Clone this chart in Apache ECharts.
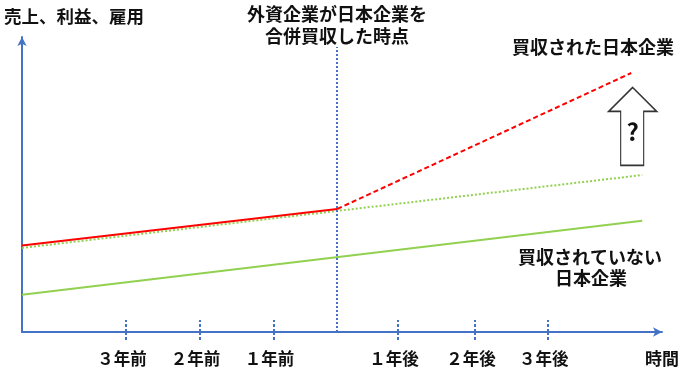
<!DOCTYPE html>
<html><head><meta charset="utf-8">
<script src="https://cdn.jsdelivr.net/npm/echarts@6/dist/echarts.min.js"></script>
<style>html,body{margin:0;padding:0;background:#fff}#c{width:684px;height:372px}</style>
</head><body><div id="c"></div>
<script>
// ---- data (x: years relative to acquisition, y: arbitrary level 0-100) ----
var tickYears = [-2.88, -1.88, -0.87, 0.83, 1.88, 2.87];
var tickLabels = ['３年前', '２年前', '１年前', '１年後', '２年後', '３年後'];
var acquiredBefore = [[-4.3, 29.3], [0, 41.7]];
var acquiredAfter = [[0, 41.7], [4.01, 87.8]];
var acquiredIfNot = [[-4.3, 28.5], [4.16, 53.2]];
var notAcquired = [[-4.3, 12.6], [4.16, 37.7]];
var acquisitionYear = 0;
var markerTop = 96.6;
var questionArrow = [4.03, 69.7];

var FONT = '"Noto Sans CJK JP", "Noto Sans", sans-serif';
var BLUE = '#4472C4', RED = '#FF0000', GREEN = '#92D050';
var chart = echarts.init(document.getElementById('c'));
function lbl(v) { var i = tickYears.indexOf(v); return i >= 0 ? tickLabels[i] : ''; }
var txt = function (t, x, y, align, size) {
  return { type: 'text', x: x, y: y, style: { text: t, font: 'bold ' + (size || 18) + 'px ' + FONT, fill: '#111', align: align || 'center', verticalAlign: 'middle' } };
};
chart.setOption({
  animation: false,
  grid: { left: 22, right: 22, top: 37, bottom: 40 },
  xAxis: [{
    type: 'value', min: -4.3, max: 4.43, splitLine: { show: false },
    axisLine: { onZero: false, lineStyle: { color: BLUE, width: 2 }, symbol: ['none', 'arrow'], symbolSize: [7, 9] },
    axisTick: { show: true, inside: true, length: 12, customValues: tickYears, lineStyle: { color: BLUE, width: 2, type: [3, 2] } },
    axisLabel: { show: true, customValues: tickYears, formatter: lbl, margin: 18, padding: [0, 8, 0, 0], color: '#111', fontSize: 16.5, fontWeight: 'bold', fontFamily: FONT }
  }, {
    type: 'value', min: -4.3, max: 4.43, position: 'bottom', splitLine: { show: false },
    axisLine: { show: false },
    axisTick: { show: true, inside: false, length: 8, customValues: tickYears, lineStyle: { color: BLUE, width: 2, type: [3, 2] } },
    axisLabel: { show: false }
  }],
  yAxis: {
    type: 'value', min: 0, max: 100, splitLine: { show: false },
    axisLine: { show: true, onZero: false, lineStyle: { color: BLUE, width: 2 }, symbol: ['none', 'arrow'], symbolSize: [7, 9] },
    axisTick: { show: false }, axisLabel: { show: false }
  },
  series: [
    { type: 'line', data: notAcquired, symbol: 'none', lineStyle: { color: GREEN, width: 2 } },
    { type: 'line', data: acquiredIfNot, symbol: 'none', lineStyle: { color: GREEN, width: 2, type: [2, 2] } },
    { type: 'line', data: acquiredBefore, symbol: 'none', lineStyle: { color: RED, width: 2 },
      markLine: { silent: true, symbol: 'none', label: { show: false },
        lineStyle: { color: BLUE, width: 2, type: [2, 2] },
        data: [[{ coord: [acquisitionYear, 0] }, { coord: [acquisitionYear, markerTop] }]] } },
    { type: 'line', data: acquiredAfter, symbol: 'none', lineStyle: { color: RED, width: 2, type: [5, 3] },
      markPoint: { silent: true, data: [{ coord: questionArrow }],
        symbol: 'path://M24,0 L48,24 L35,24 L35,78 L12,78 L12,24 L0,24 Z', symbolSize: [48, 78],
        itemStyle: { color: '#fff', borderColor: '#333', borderWidth: 1.4 },
        label: { show: true, formatter: '?', color: '#111', fontSize: 24, fontWeight: 'bold', fontFamily: FONT, offset: [0, 5] } } }
  ],
  graphic: [
    txt('売上、利益、雇用', 4, 16, 'left', 17.5),
    txt('外資企業が日本企業を', 337, 14),
    txt('合併買収した時点', 337, 36),
    txt('買収された日本企業', 593, 47),
    txt('買収されていない', 590, 257),
    txt('日本企業', 591, 278),
    txt('時間', 645, 359, 'left', 17)
  ]
});
</script></body></html>
